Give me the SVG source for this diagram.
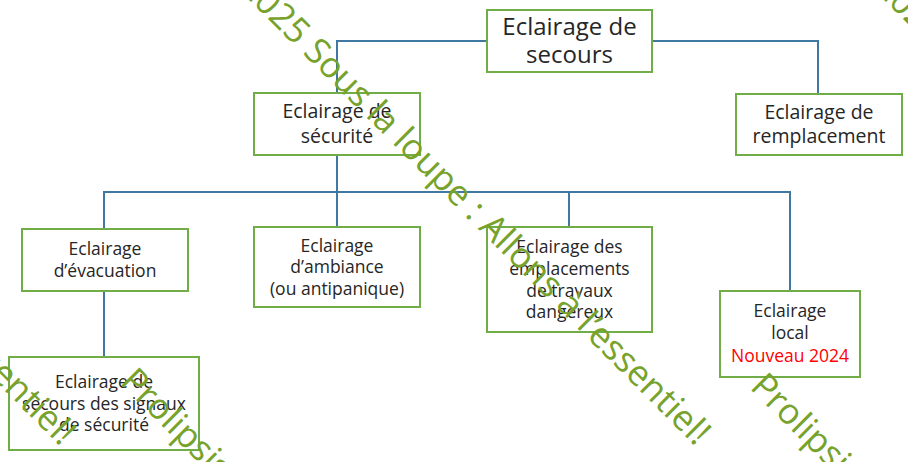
<svg xmlns="http://www.w3.org/2000/svg" width="908" height="462" viewBox="0 0 908 462">
<style>
.box{fill:#ffffff;stroke:#70ad47;stroke-width:2}
.lbl{font-family:"Open Sans","Noto Sans","Liberation Sans",sans-serif;fill:#262626;text-anchor:middle}
.f24{font-size:24px}
.f20{font-size:19.5px}
.f18{font-size:17.5px}
.red{fill:#ff0000}
.con{fill:none;stroke:#3f78a3;stroke-width:2}
.wm{font-family:"Open Sans","Noto Sans","Liberation Sans",sans-serif;font-size:35.5px;fill:#77a22c}
</style>
<rect width="908" height="462" fill="#ffffff"/>
<g id="connectors">
<polyline class="con" points="487,41 337,41 337,93"/>
<polyline class="con" points="652,41 818,41 818,94"/>
<line class="con" x1="337" y1="155" x2="337" y2="227"/>
<line class="con" x1="104" y1="192" x2="790" y2="192"/>
<line class="con" x1="104" y1="191" x2="104" y2="229"/>
<line class="con" x1="569" y1="192" x2="569" y2="227"/>
<line class="con" x1="790" y1="191" x2="790" y2="291"/>
<line class="con" x1="104" y1="291" x2="104" y2="357"/>
</g>
<g id="n-secours">
<rect class="box" x="487" y="10" width="165" height="62"/>
<text class="lbl f24" x="569.5" y="35">Eclairage de</text>
<text class="lbl f24" x="569.5" y="63">secours</text>
</g>
<g id="n-securite">
<rect class="box" x="254" y="93" width="166" height="62"/>
<text class="lbl f20" x="337" y="118">Eclairage de</text>
<text class="lbl f20" x="337" y="143">sécurité</text>
</g>
<g id="n-remplacement">
<rect class="box" x="736" y="94" width="166" height="61"/>
<text class="lbl f20" x="819" y="119">Eclairage de</text>
<text class="lbl f20" x="819" y="143">remplacement</text>
</g>
<g id="n-evacuation">
<rect class="box" x="22" y="229" width="166" height="62"/>
<text class="lbl f18" x="105" y="255">Eclairage</text>
<text class="lbl f18" x="105" y="277">d’évacuation</text>
</g>
<g id="n-ambiance">
<rect class="box" x="254" y="227" width="166" height="80"/>
<text class="lbl f18" x="337" y="252">Eclairage</text>
<text class="lbl f18" x="337" y="273">d’ambiance</text>
<text class="lbl f18" x="337" y="295">(ou antipanique)</text>
</g>
<g id="n-emplacements">
<rect class="box" x="487" y="227" width="165" height="105"/>
<text class="lbl f18" x="569.5" y="253">Eclairage des</text>
<text class="lbl f18" x="569.5" y="275">emplacements</text>
<text class="lbl f18" x="569.5" y="297">de travaux</text>
<text class="lbl f18" x="569.5" y="318">dangereux</text>
</g>
<g id="n-local">
<rect class="box" x="720" y="291" width="140" height="86"/>
<text class="lbl f18" x="790" y="317">Eclairage</text>
<text class="lbl f18" x="790" y="339">local</text>
<text class="lbl f18 red" x="790" y="362">Nouveau 2024</text>
</g>
<g id="n-signaux">
<rect class="box" x="9" y="357" width="190" height="93"/>
<text class="lbl f18" x="104" y="388">Eclairage de</text>
<text class="lbl f18" x="104" y="410">secours des signaux</text>
<text class="lbl f18" x="104" y="431">de sécurité</text>
</g>
<g id="watermark">
<text class="wm" transform="translate(238,-11) rotate(45)">2025 Sous la loupe : Allons à l’essentiel!</text>
<text class="wm" transform="translate(-397,-11) rotate(45)">2025 Sous la loupe : Allons à l’essentiel!</text>
<text class="wm" transform="translate(873,-11) rotate(45)">2025 Sous la loupe : Allons à l’essentiel!</text>
<text class="wm" transform="translate(119,383) rotate(45)">Prolipsis©</text>
<text class="wm" transform="translate(749,388) rotate(45)">Prolipsis©</text>
</g>
</svg>
